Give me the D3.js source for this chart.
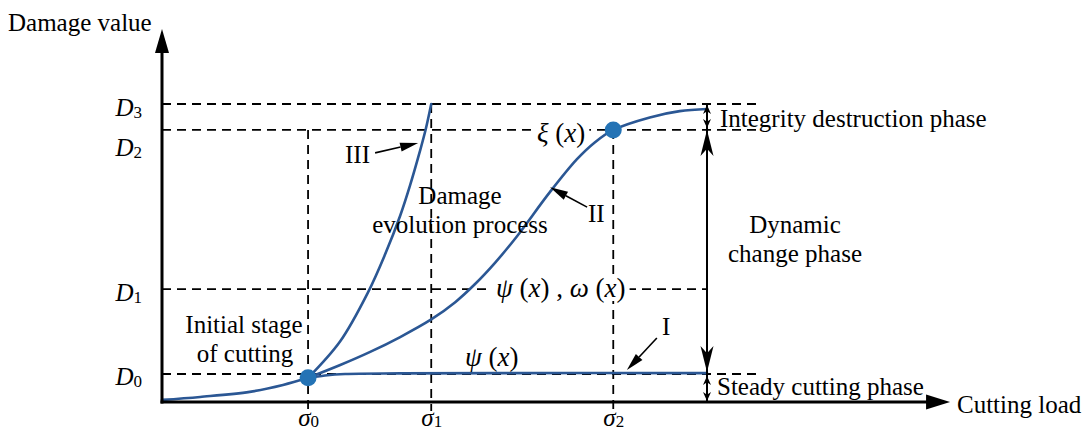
<!DOCTYPE html>
<html><head><meta charset="utf-8">
<script src="https://cdn.jsdelivr.net/npm/d3@7"></script>
<style>
html,body{margin:0;padding:0;background:#fff;}
svg{display:block;}
</style></head><body>
<svg id="chart" width="1092" height="431"></svg>
<script>
// ---------- data ----------
const damageLevels = [9.4, 37.9, 91.3, 100];          // D0..D3
const damageSubs   = ["0", "1", "2", "3"];
const loadLevels   = [26.8, 49.4, 82.8];              // σ0..σ2
const loadSubs     = ["0", "1", "2"];

const baseX = [0, 7.0, 16.1, 22.2, 26.8];
const baseY = [0.7, 1.7, 3.4, 5.7, 8.1];
const curveIX = [26.8, 29.9, 33.6, 43.7, 62.0, 100];
const curveIY = [8.1, 8.9, 9.4, 9.6, 9.7, 9.7];
const curveIIX = [26.8, 32.7, 38.2, 43.7, 49.4, 53.8, 57.4, 61.1, 65.0, 71.2, 76.1, 79.4, 82.8, 89.5, 95.0, 100];
const curveIIY = [8.1, 12.4, 16.8, 21.8, 27.7, 33.5, 39.5, 46.7, 55.3, 70.5, 81.4, 87.1, 91.3, 95.5, 97.6, 98.3];
const curveIIIX = [26.8, 32.7, 37.8, 40.9, 43.7, 45.5, 47.3, 48.4, 49.4];
const curveIIIY = [8.1, 20.4, 36.8, 49.4, 62.5, 72.6, 84.0, 91.6, 100];
const keyPointsX = [26.8, 82.8];
const keyPointsY = [8.1, 91.3];

// ---------- drawing ----------
const FONT = "Liberation Serif";
const svg = d3.select("#chart").attr("font-family", FONT);
const x = d3.scaleLinear().domain([0, 100]).range([162, 707]);
const y = d3.scaleLinear().domain([0, 100]).range([402, 104]);

const CURVE = "#2b5794", DOT = "#2473b5", INK = "#000";
const dash = "9,6";
const xLineEnd = 110, xAxisEnd = 144.6, yAxisEnd = 125.2, belowAxis = -3;

// dashed reference lines
const gDash = svg.append("g").attr("stroke", INK).attr("stroke-width", 1.8).attr("stroke-dasharray", dash).attr("fill", "none");
damageLevels.forEach((d, i) => {
  const end = (i === 1) ? 100 : xLineEnd;
  gDash.append("line").attr("x1", x(0)).attr("x2", x(end)).attr("y1", y(d)).attr("y2", y(d));
});
const vTop = [damageLevels[2], damageLevels[3], damageLevels[2]];
loadLevels.forEach((s, i) => {
  gDash.append("line").attr("x1", x(s)).attr("x2", x(s)).attr("y1", y(vTop[i])).attr("y2", y(belowAxis));
});

// math-style label helper
function mathLabel(parts, px, py, size, bg) {
  const g = svg.append("g");
  const t = g.append("text").attr("x", px).attr("y", py).attr("font-size", size).attr("fill", INK)
    .attr("font-family", FONT);
  parts.forEach(p => {
    t.append("tspan").text(p[0]).attr("font-style", p[1] ? "italic" : "normal");
  });
  if (bg) {
    const b = t.node().getBBox();
    g.insert("rect", "text").attr("x", b.x - 4).attr("y", b.y + 2).attr("width", b.width + 8).attr("height", b.height - 4).attr("fill", "#fff");
  }
  return g;
}
mathLabel([["ψ",1],[" (",0],["x",1],[")",0],["  ,  ",0],["ω",1],[" (",0],["x",1],[")",0]], 496, 297, 27, true);
mathLabel([["ξ",1],[" (",0],["x",1],[")",0]], 537, 142, 27, true);

// curves
const line = d3.line().x(d => x(d[0])).y(d => y(d[1])).curve(d3.curveCatmullRom.alpha(0.5));
const gCurve = svg.append("g").attr("fill", "none").attr("stroke", CURVE).attr("stroke-width", 2.6).attr("stroke-linecap", "round");
[[baseX, baseY], [curveIX, curveIY], [curveIIX, curveIIY], [curveIIIX, curveIIIY]].forEach(([xs, ys]) => {
  gCurve.append("path").attr("d", line(d3.zip(xs, ys)));
});
mathLabel([["ψ",1],[" (",0],["x",1],[")",0]], 465, 366, 27, false);

svg.append("g").selectAll("circle").data(d3.zip(keyPointsX, keyPointsY)).join("circle")
  .attr("cx", d => x(d[0])).attr("cy", d => y(d[1])).attr("r", 8.5).attr("fill", DOT);

// axes (arrowed)
const gAxis = svg.append("g");
gAxis.append("line").attr("x1", x(0) - 1.5).attr("x2", x(xAxisEnd) - 18).attr("y1", y(0)).attr("y2", y(0)).attr("stroke", INK).attr("stroke-width", 3);
gAxis.append("line").attr("x1", x(0)).attr("x2", x(0)).attr("y1", y(0) + 1.5).attr("y2", y(yAxisEnd) + 18).attr("stroke", INK).attr("stroke-width", 3);
gAxis.append("path").attr("d", `M${x(xAxisEnd)},${y(0)} L${x(xAxisEnd) - 24},${y(0) - 7.5} L${x(xAxisEnd) - 24},${y(0) + 7.5}Z`).attr("fill", INK);
gAxis.append("path").attr("d", `M${x(0)},${y(yAxisEnd)} L${x(0) - 7},${y(yAxisEnd) + 24} L${x(0) + 7},${y(yAxisEnd) + 24}Z`).attr("fill", INK);

// tick labels via d3 axes
const yAx = svg.append("g").attr("transform", `translate(${x(0)},0)`)
  .call(d3.axisLeft(y).tickValues(damageLevels).tickSize(0).tickPadding(20))
  .attr("font-family", FONT);
yAx.select(".domain").remove();
yAx.selectAll(".tick text").each(function(d, i) {
  const t = d3.select(this).text(null)
    .attr("font-size", 25).attr("fill", INK).attr("dy", null).attr("y", i === 2 ? 26 : 11);
  t.append("tspan").text("D").attr("font-style", "italic");
  t.append("tspan").text(damageSubs[i]).attr("font-size", 17).attr("dy", 2);
});
const xAx = svg.append("g").attr("transform", `translate(0,${y(0)})`)
  .call(d3.axisBottom(x).tickValues(loadLevels).tickSize(0))
  .attr("font-family", FONT);
xAx.select(".domain").remove();
xAx.selectAll(".tick text").each(function(d, i) {
  const t = d3.select(this).text(null)
    .attr("font-size", 25).attr("fill", INK).attr("dy", null).attr("y", 24).attr("text-anchor", "middle");
  t.append("tspan").text("σ").attr("font-style", "italic");
  t.append("tspan").text(loadSubs[i]).attr("font-size", 17).attr("dy", 1);
});

// phase measurement arrow on the right
const ax = x(100);
const gM = svg.append("g").attr("stroke", INK).attr("fill", INK);
gM.append("line").attr("x1", ax).attr("x2", ax).attr("y1", y(damageLevels[3])).attr("y2", y(0)).attr("stroke-width", 2);
function head(tipY, dir, len, hw, notch) {
  const b = tipY - dir * len, n = tipY - dir * len * notch;
  gM.append("path").attr("stroke", "none")
    .attr("d", `M${ax},${tipY} L${ax - hw},${b} L${ax},${n} L${ax + hw},${b}Z`);
}
head(y(damageLevels[3]) + 1, -1, 9, 4, 0.7);
head(y(damageLevels[2]) - 2, 1, 9, 4, 0.7);
head(y(damageLevels[2]), -1, 26, 6.5, 0.72);
head(y(damageLevels[0]) - 2, 1, 26, 6.5, 0.72);
head(y(damageLevels[0]) + 2, -1, 9, 4, 0.7);
head(y(0) - 1, 1, 9, 4, 0.7);

// pointer arrows for curve names
function pointer(x1, y1, x2, y2) {
  const px1 = x(x1), py1 = y(y1), px2 = x(x2), py2 = y(y2);
  const ang = Math.atan2(py2 - py1, px2 - px1), L = 18, W = 4.5;
  const bx = px2 - L * Math.cos(ang), by = py2 - L * Math.sin(ang);
  const nx = -Math.sin(ang), ny = Math.cos(ang);
  svg.append("line").attr("x1", px1).attr("y1", py1).attr("x2", bx).attr("y2", by).attr("stroke", INK).attr("stroke-width", 1.6);
  svg.append("path").attr("fill", INK)
    .attr("d", `M${px2},${py2} L${bx + nx * W},${by + ny * W} L${bx - nx * W},${by - ny * W}Z`);
}
pointer(39.1, 83.6, 47.0, 86.9);
pointer(78.0, 65.4, 71.2, 72.1);
pointer(90.8, 21.5, 85.3, 10.7);

// texts
const gT = svg.append("g").attr("font-size", 25).attr("fill", INK).attr("font-family", FONT);
function txt(s, px, py, anchor) {
  gT.append("text").attr("x", px).attr("y", py).attr("text-anchor", anchor || "start").text(s);
}
txt("Damage value", 8, 31);
txt("Cutting load", 957, 413);
txt("Integrity destruction phase", 720, 127);
txt("Dynamic", 795, 233, "middle");
txt("change phase", 795, 262, "middle");
txt("Damage", 460, 204, "middle");
txt("evolution process", 460, 233, "middle");
txt("Initial stage", 244, 333, "middle");
txt("of cutting", 245, 362, "middle");
txt("Steady cutting phase", 717, 395);
txt("III", 345, 163);
txt("II", 588, 222);
txt("I", 662, 335);
</script>
</body></html>
